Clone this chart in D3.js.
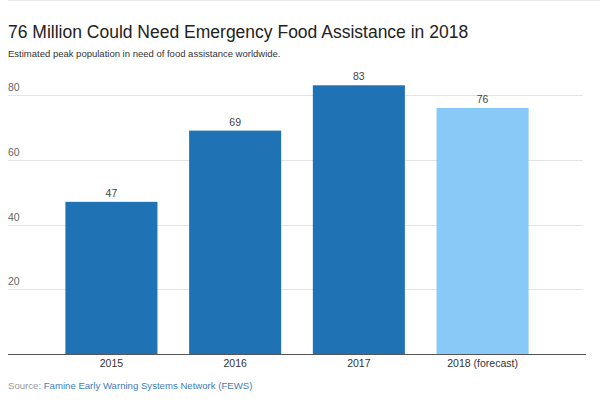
<!DOCTYPE html>
<html><head><meta charset="utf-8">
<script src="https://cdn.jsdelivr.net/npm/d3@7"></script>
<style>body{margin:0;background:#fff;}svg{display:block;font-family:Arial,"Liberation Sans",sans-serif;}</style>
</head><body>
<script>
const categories = ["2015","2016","2017","2018 (forecast)"];
const values = [47,69,83,76];
const forecast = [false,false,false,true];
const yTicks = [20,40,60,80];

const W=600,H=407;
const svg=d3.select("body").append("svg").attr("width",W).attr("height",H);
svg.append("line").attr("x1",8).attr("x2",600).attr("y1",0.5).attr("y2",0.5).attr("stroke","#e6e6e6");

svg.append("text").attr("x",8).attr("y",38).attr("font-size",17.5).attr("fill","#222")
  .text("76 Million Could Need Emergency Food Assistance in 2018");
svg.append("text").attr("x",8).attr("y",57).attr("font-size",9.5).attr("fill","#333")
  .text("Estimated peak population in need of food assistance worldwide.");

const x=d3.scaleBand().domain(categories).range([8,586]).paddingInner(0.256).paddingOuter(0.464);
const y=d3.scaleLinear().domain([0,80]).range([354,95]);

const grid=svg.append("g");
yTicks.forEach(t=>{
  grid.append("line").attr("x1",8).attr("x2",583).attr("y1",Math.round(y(t))+0.5).attr("y2",Math.round(y(t))+0.5).attr("stroke","#e3e3e3");
  grid.append("text").attr("x",8).attr("y",y(t)-4).attr("font-size",10.5).attr("fill","#666").text(t);
});

svg.selectAll("rect.bar").data(categories).enter().append("rect")
  .attr("x",d=>x(d)).attr("width",x.bandwidth())
  .attr("y",(d,i)=>y(values[i])).attr("height",(d,i)=>y(0)-y(values[i]))
  .attr("fill",(d,i)=>forecast[i]?"#88c9f8":"#1f72b3");

svg.selectAll("text.val").data(categories).enter().append("text")
  .attr("x",d=>x(d)+x.bandwidth()/2).attr("y",(d,i)=>y(values[i])-5)
  .attr("text-anchor","middle").attr("font-size",10.5).attr("fill","#444")
  .text((d,i)=>values[i]);

svg.append("line").attr("x1",8).attr("x2",586).attr("y1",354.5).attr("y2",354.5).attr("stroke","#555");

const xa=svg.append("g").attr("transform","translate(0,354)")
  .call(d3.axisBottom(x).tickSize(0).tickPadding(6));
xa.select(".domain").remove();
xa.selectAll("text").attr("font-size",10.5).attr("fill","#333").attr("font-family","Arial, 'Liberation Sans', sans-serif");

const src=svg.append("text").attr("x",8).attr("y",389).attr("font-size",9.6);
src.append("tspan").attr("fill","#999").text("Source: ");
src.append("tspan").attr("fill","#3f7cb8").text("Famine Early Warning Systems Network (FEWS)");
</script>
</body></html>
